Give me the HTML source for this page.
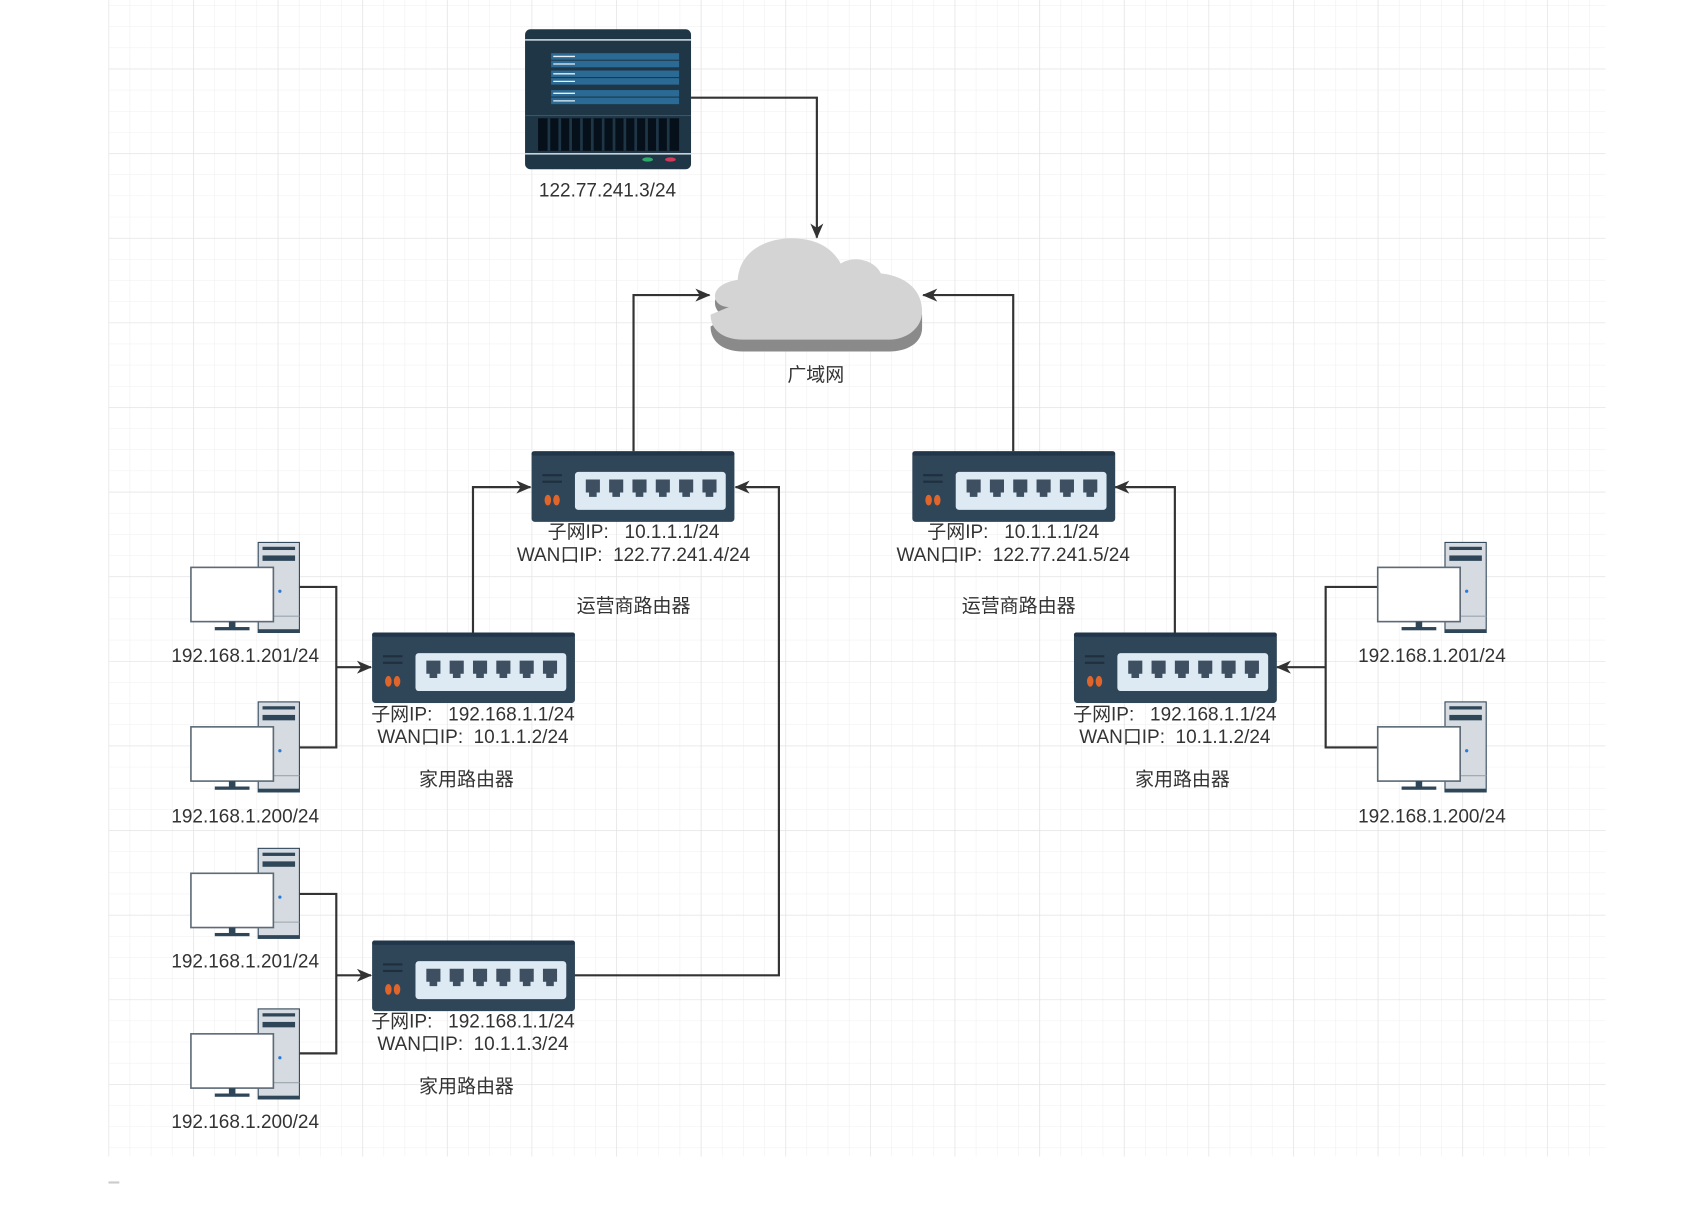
<!DOCTYPE html>
<html><head><meta charset="utf-8"><style>
html,body{margin:0;padding:0;background:#fff;}
svg{display:block}
text{font-family:"Liberation Sans","Noto Sans CJK SC",sans-serif;font-size:17.5px;fill:#333;text-anchor:middle;white-space:pre}
</style></head><body>
<svg width="1701" height="1212" viewBox="0 0 1568 1117.2" xmlns="http://www.w3.org/2000/svg" xml:space="preserve">
<defs>
<pattern id="minor" x="100" y="-14.7" width="19.5" height="19.5" patternUnits="userSpaceOnUse">
<path d="M0 0H19.5M0 0V19.5" stroke="#efefef" stroke-width="1" fill="none"/>
</pattern>
<pattern id="major" x="100" y="-14.7" width="78" height="78" patternUnits="userSpaceOnUse">
<path d="M0 0H78M0 0V78" stroke="#e2e2e2" stroke-width="1.2" fill="none"/>
</pattern>
<marker id="ar" markerWidth="14" markerHeight="12" refX="13" refY="6" orient="auto" markerUnits="userSpaceOnUse">
<path d="M0 0L14 6L0 12L4 6Z" fill="#333"/>
</marker>
<g id="router">
<rect x="0" y="0" width="187" height="65" rx="3" fill="#2f4659"/>
<rect x="0" y="0" width="187" height="4" rx="2" fill="#22364a"/>
<path d="M10 22H28M10 28H28" stroke="#1f2f3e" stroke-width="2"/>
<ellipse cx="15" cy="45" rx="3" ry="5" fill="#e0652b"/>
<ellipse cx="23" cy="45" rx="3" ry="5" fill="#e0652b"/>
<rect x="40" y="19" width="139" height="35" rx="3" fill="#dde9f3"/>
<g fill="#3d4f60">
<path d="M50 26h13v12h-3v4h-7v-4h-3z"/>
<path d="M71.5 26h13v12h-3v4h-7v-4h-3z"/>
<path d="M93 26h13v12h-3v4h-7v-4h-3z"/>
<path d="M114.5 26h13v12h-3v4h-7v-4h-3z"/>
<path d="M136 26h13v12h-3v4h-7v-4h-3z"/>
<path d="M157.5 26h13v12h-3v4h-7v-4h-3z"/>
</g>
</g>
<g id="pc">
<rect x="62" y="0" width="38" height="83" fill="#d5dbe0"/>
<rect x="62" y="80" width="38" height="3" fill="#2f4659"/>
<rect x="62" y="0" width="38" height="83" fill="none" stroke="#2f4659" stroke-width="1"/>
<rect x="66" y="4" width="30" height="3" fill="#2f4659"/>
<rect x="66" y="12" width="30" height="5" fill="#2f4659"/>
<line x1="62" y1="68" x2="100" y2="68" stroke="#9aa5ae"/>
<circle cx="82" cy="45" r="1.5" fill="#2a7ad5"/>
<rect x="0" y="23" width="76" height="50" fill="#fff" stroke="#5d6b77" stroke-width="1.5"/>
<rect x="35" y="73" width="6" height="6" fill="#2f4659"/>
<rect x="22" y="78" width="32" height="3" fill="#2f4659"/>
</g>
</defs>
<rect x="100" y="0" width="1380" height="1066" fill="url(#minor)"/>
<rect x="100" y="0" width="1380" height="1066" fill="url(#major)"/>
<rect x="100" y="1089" width="10" height="2" fill="#ccc"/>

<g transform="translate(484,27)">
<rect width="153" height="129" rx="5" fill="#1f3646"/>
<rect x="0" y="9" width="153" height="1.5" fill="#c8d4dc"/>
<rect x="24" y="22" width="118" height="6" fill="#2a6a95"/>
<rect x="24" y="29" width="118" height="6" fill="#2a6a95"/>
<rect x="24" y="38" width="118" height="6" fill="#2a6a95"/>
<rect x="24" y="45" width="118" height="6" fill="#2a6a95"/>
<rect x="24" y="56" width="118" height="6" fill="#2a6a95"/>
<rect x="24" y="63" width="118" height="6" fill="#2a6a95"/>
<path d="M26 25H46M26 32H46M26 41H46M26 48H46M26 59H46M26 66H46" stroke="#e8f0f5" stroke-width="1.2"/>
<rect x="0" y="79" width="153" height="1" fill="#2c5a78"/>
<rect x="12" y="82" width="130" height="30" fill="#06101a"/>
<g stroke="#1f3646" stroke-width="2.5">
<path d="M22 82v30M32 82v30M42 82v30M52 82v30M62 82v30M72 82v30M82 82v30M92 82v30M102 82v30M112 82v30M122 82v30M132 82v30"/>
</g>
<rect x="0" y="114" width="153" height="1.5" fill="#c8d4dc"/>
<ellipse cx="113" cy="120" rx="5" ry="2" fill="#2eaa6a"/>
<ellipse cx="134" cy="120" rx="5" ry="2" fill="#d23a5a"/>
</g>
<text x="560" y="181">122.77.241.3/24</text>

<g transform="translate(0,4)">
<path d="M672 287 C655 287 652 262 680 258 C682 228 712 218 735 220 C755 221 768 230 775 243 C785 236 805 238 812 252 C832 254 850 265 850 287 L850 298 C850 313 835 320 820 320 L685 320 C665 320 655 310 655 297 Z" fill="#8a8a8a"/>
</g>
<path d="M672 283 C655 283 652 262 680 258 C682 228 712 218 735 220 C755 221 768 230 775 243 C785 236 805 238 812 252 C832 254 850 265 850 287 C850 303 835 313 820 313 L685 313 C665 313 655 303 655 290 Z" fill="#d3d4d3"/>
<text x="752" y="351">广域网</text>

<g fill="none" stroke="#333" stroke-width="2">
<path d="M637 90H753V219" marker-end="url(#ar)"/>
<path d="M584 416V272H654" marker-end="url(#ar)"/>
<path d="M934 416V272H851" marker-end="url(#ar)"/>
<path d="M436 583V449H489" marker-end="url(#ar)"/>
<path d="M529 899H718V449H678" marker-end="url(#ar)"/>
<path d="M1083 583V449H1028" marker-end="url(#ar)"/>
<path d="M276 541H310V689H276M310 615H342" marker-end="url(#ar)"/>
<path d="M276 824H310V971H276M310 899H342" marker-end="url(#ar)"/>
<path d="M1270 541H1222V689H1270M1222 615H1177" marker-end="url(#ar)"/>
</g>

<use href="#router" x="490" y="416"/>
<use href="#router" x="841" y="416"/>
<use href="#router" x="343" y="583"/>
<use href="#router" x="990" y="583"/>
<use href="#router" x="343" y="867"/>

<use href="#pc" x="176" y="500"/>
<use href="#pc" x="176" y="647"/>
<use href="#pc" x="176" y="782"/>
<use href="#pc" x="176" y="930"/>
<use href="#pc" x="1270" y="500"/>
<use href="#pc" x="1270" y="647"/>

<text x="584" y="496">子网IP:   10.1.1.1/24</text>
<text x="584" y="517">WAN口IP:  122.77.241.4/24</text>
<text x="584" y="564">运营商路由器</text>
<text x="934" y="496">子网IP:   10.1.1.1/24</text>
<text x="934" y="517">WAN口IP:  122.77.241.5/24</text>
<text x="939" y="564">运营商路由器</text>
<text x="436" y="664">子网IP:   192.168.1.1/24</text>
<text x="436" y="685">WAN口IP:  10.1.1.2/24</text>
<text x="430" y="724">家用路由器</text>
<text x="1083" y="664">子网IP:   192.168.1.1/24</text>
<text x="1083" y="685">WAN口IP:  10.1.1.2/24</text>
<text x="1090" y="724">家用路由器</text>
<text x="436" y="947">子网IP:   192.168.1.1/24</text>
<text x="436" y="968">WAN口IP:  10.1.1.3/24</text>
<text x="430" y="1007">家用路由器</text>

<text x="226" y="610">192.168.1.201/24</text>
<text x="226" y="758">192.168.1.200/24</text>
<text x="226" y="892">192.168.1.201/24</text>
<text x="226" y="1040">192.168.1.200/24</text>
<text x="1320" y="610">192.168.1.201/24</text>
<text x="1320" y="758">192.168.1.200/24</text>
</svg>
</body></html>
